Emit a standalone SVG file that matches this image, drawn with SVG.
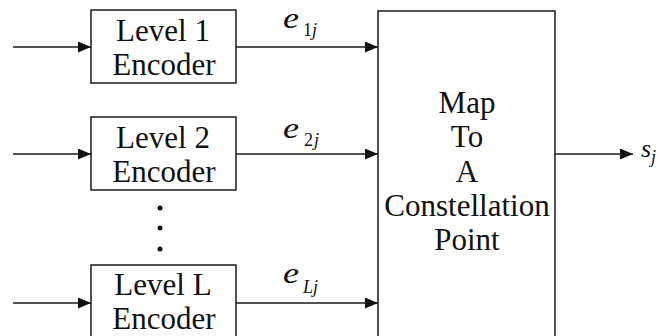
<svg xmlns="http://www.w3.org/2000/svg" width="660" height="336" viewBox="0 0 660 336">
<style>
.box{fill:#fff;stroke:#1a1a1a;stroke-width:1.5}
.ln{stroke:#1a1a1a;stroke-width:1.4;fill:none}
.t{font-size:31px;text-anchor:middle;fill:#111}
.e{font-style:italic;font-size:30px;fill:#111}
.sub{font-size:18px;fill:#111}
.it{font-style:italic}
</style>
<defs>
<marker id="ah" markerUnits="userSpaceOnUse" markerWidth="13" markerHeight="11" refX="13" refY="5.5" orient="auto">
<path d="M0,0 L13,5.5 L0,11 Z" fill="#111"/>
</marker>
</defs>
<rect width="660" height="336" fill="#fff"/>
<g id="connectors">
<line class="ln" x1="13" y1="47" x2="91" y2="47" marker-end="url(#ah)"/>
<line class="ln" x1="13" y1="154" x2="91" y2="154" marker-end="url(#ah)"/>
<line class="ln" x1="13" y1="303" x2="91" y2="303" marker-end="url(#ah)"/>
<line class="ln" x1="236" y1="47" x2="378" y2="47" marker-end="url(#ah)"/>
<line class="ln" x1="236" y1="154" x2="378" y2="154" marker-end="url(#ah)"/>
<line class="ln" x1="236" y1="303" x2="378" y2="303" marker-end="url(#ah)"/>
<line class="ln" x1="555" y1="154" x2="633" y2="154" marker-end="url(#ah)"/>
</g>
<g font-family="Liberation Serif, Tinos, Nimbus Roman, Noto Serif, DejaVu Serif, Times, serif">
<g id="enc1">
<rect class="box" x="91" y="10" width="145" height="73"/>
<text class="t" x="163" y="41">Level 1</text>
<text class="t" x="164" y="75">Encoder</text>
</g>
<g id="enc2">
<rect class="box" x="91" y="117" width="145" height="73"/>
<text class="t" x="163" y="148">Level 2</text>
<text class="t" x="164" y="182">Encoder</text>
</g>
<g id="dots" fill="#111">
<circle cx="160" cy="208" r="2.5"/>
<circle cx="160" cy="228" r="2.5"/>
<circle cx="160" cy="249" r="2.5"/>
</g>
<g id="encL">
<rect class="box" x="91" y="265" width="145" height="80"/>
<text class="t" x="163" y="295">Level L</text>
<text class="t" x="164" y="329">Encoder</text>
</g>
<g id="mapper">
<rect class="box" x="378" y="11" width="177" height="335"/>
<text class="t" x="467" y="113">Map</text>
<text class="t" x="467" y="147">To</text>
<text class="t" x="467" y="182">A</text>
<text class="t" x="467" y="216">Constellation</text>
<text class="t" x="467" y="250">Point</text>
</g>
<g id="labels">
<g transform="translate(283,28) scale(1.2,1)"><text class="e" x="0" y="0">e</text></g>
<text class="sub" x="303" y="36">1<tspan class="it">j</tspan></text>
<g transform="translate(283,138) scale(1.2,1)"><text class="e" x="0" y="0">e</text></g>
<text class="sub" x="304" y="146">2<tspan class="it" dx="1">j</tspan></text>
<g transform="translate(283,283) scale(1.2,1)"><text class="e" x="0" y="0">e</text></g>
<text class="sub it" x="303" y="293">Lj</text>
<text class="e" x="641" y="157" style="font-size:26px">s</text>
<text class="sub it" x="651" y="163">j</text>
</g>
</g>
</svg>
